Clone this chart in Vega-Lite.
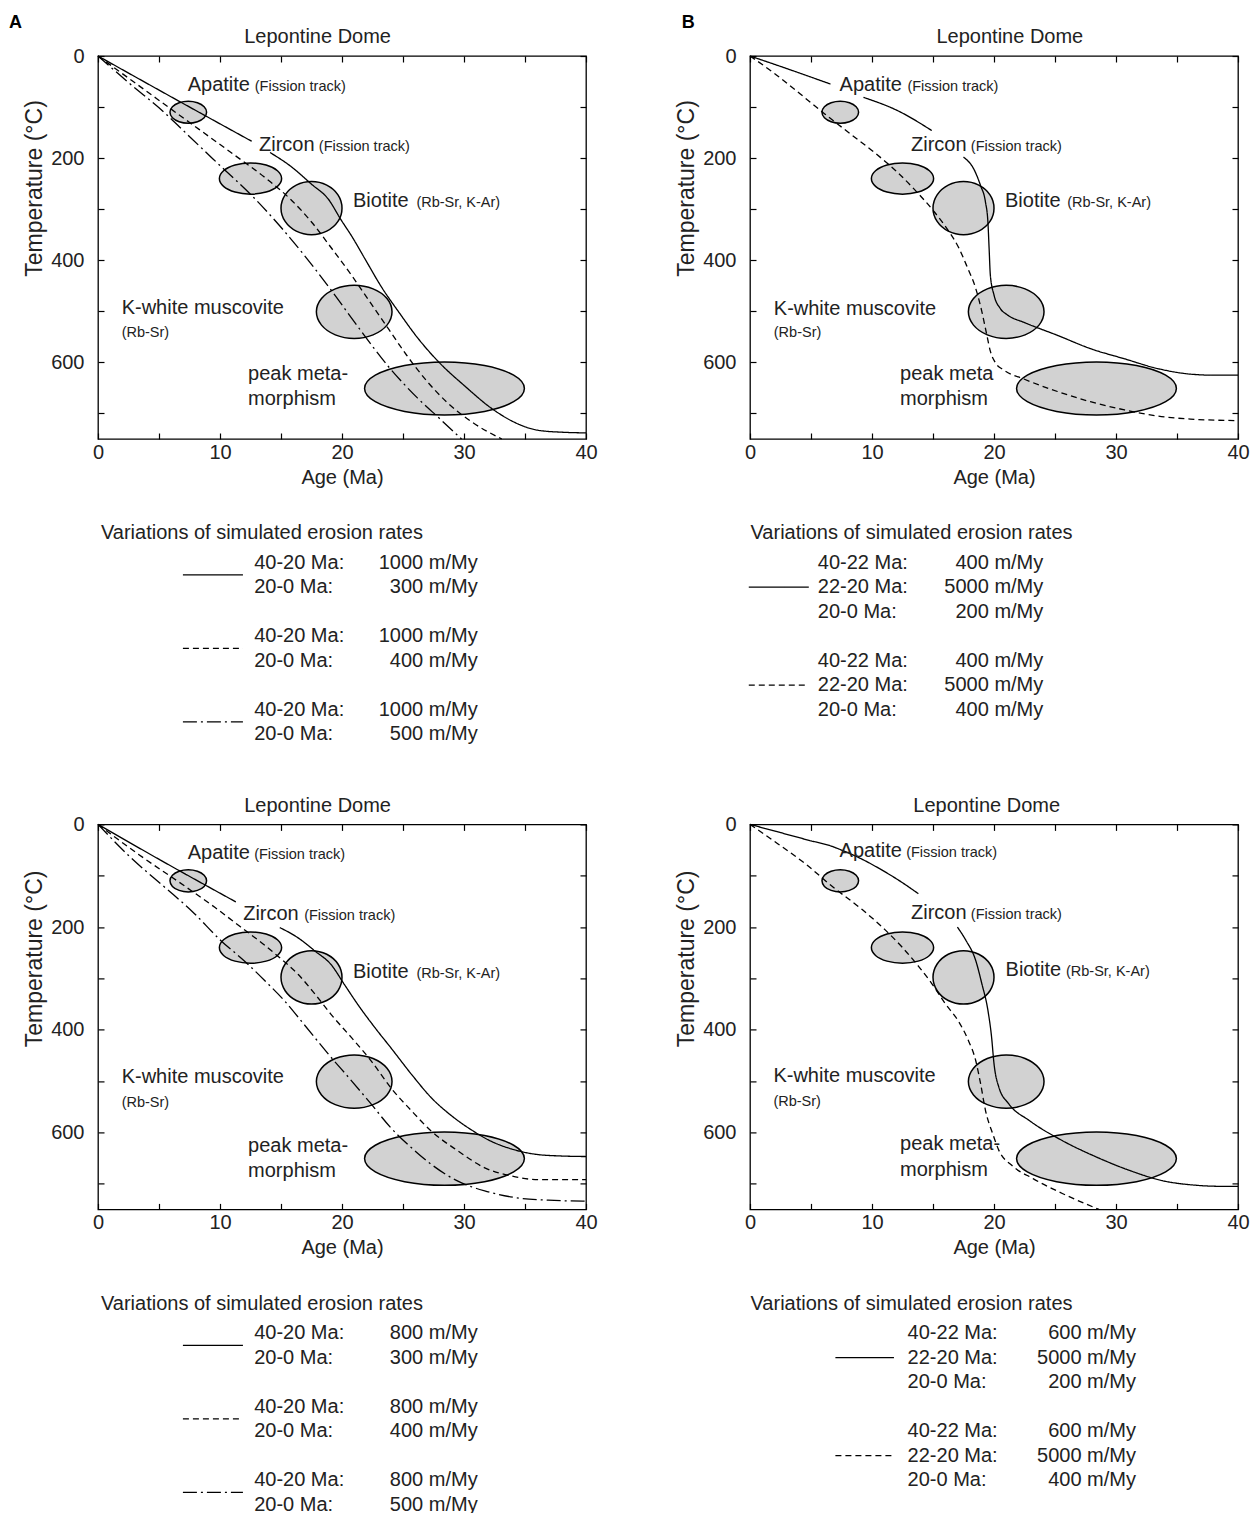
{
"$schema": "https://vega.github.io/schema/vega-lite/v6.json",
"background": "white",
"padding": {"left": 8, "top": 13, "right": 0, "bottom": 0},
"config": {
 "font": "Liberation Sans",
 "view": {"stroke": "black", "strokeWidth": 1.3},
 "axis": {"labelFont": "Liberation Sans", "labelFontSize": 20, "labelColor": "#222", "titleFont": "Liberation Sans", "titleFontSize": 20, "titleFontWeight": "normal", "titleColor": "#222", "tickColor": "black", "tickWidth": 1.2, "grid": false, "domain": false, "labelOverlap": false, "labelFlush": false, "labelBound": false},
 "text": {"font": "Liberation Sans", "color": "#222"}
},
"datasets": {
 "ellipses": [
  {"m":"ap","i":0,"age":8.9,"temp":110},{"m":"ap","i":1,"age":8.7,"temp":120.8},{"m":"ap","i":2,"age":8.15,"temp":128.6},{"m":"ap","i":3,"age":7.4,"temp":131.5},{"m":"ap","i":4,"age":6.65,"temp":128.6},{"m":"ap","i":5,"age":6.1,"temp":120.8},{"m":"ap","i":6,"age":5.9,"temp":110},{"m":"ap","i":7,"age":6.1,"temp":99.2},{"m":"ap","i":8,"age":6.65,"temp":91.4},{"m":"ap","i":9,"age":7.4,"temp":88.5},{"m":"ap","i":10,"age":8.15,"temp":91.4},{"m":"ap","i":11,"age":8.7,"temp":99.2},
  {"m":"zr","i":0,"age":15.05,"temp":240},{"m":"zr","i":1,"age":14.71,"temp":255.3},{"m":"zr","i":2,"age":13.78,"temp":266.4},{"m":"zr","i":3,"age":12.5,"temp":270.5},{"m":"zr","i":4,"age":11.23,"temp":266.4},{"m":"zr","i":5,"age":10.29,"temp":255.3},{"m":"zr","i":6,"age":9.95,"temp":240},{"m":"zr","i":7,"age":10.29,"temp":224.8},{"m":"zr","i":8,"age":11.23,"temp":213.6},{"m":"zr","i":9,"age":12.5,"temp":209.5},{"m":"zr","i":10,"age":13.78,"temp":213.6},{"m":"zr","i":11,"age":14.71,"temp":224.8},
  {"m":"bt","i":0,"age":20.0,"temp":298},{"m":"bt","i":1,"age":19.67,"temp":324},{"m":"bt","i":2,"age":18.75,"temp":343},{"m":"bt","i":3,"age":17.5,"temp":350},{"m":"bt","i":4,"age":16.25,"temp":343},{"m":"bt","i":5,"age":15.34,"temp":324},{"m":"bt","i":6,"age":15.0,"temp":298},{"m":"bt","i":7,"age":15.34,"temp":272},{"m":"bt","i":8,"age":16.25,"temp":253},{"m":"bt","i":9,"age":17.5,"temp":246},{"m":"bt","i":10,"age":18.75,"temp":253},{"m":"bt","i":11,"age":19.67,"temp":272},
  {"m":"mu","i":0,"age":24.1,"temp":501},{"m":"mu","i":1,"age":23.69,"temp":527},{"m":"mu","i":2,"age":22.55,"temp":546},{"m":"mu","i":3,"age":21.0,"temp":553},{"m":"mu","i":4,"age":19.45,"temp":546},{"m":"mu","i":5,"age":18.32,"temp":527},{"m":"mu","i":6,"age":17.9,"temp":501},{"m":"mu","i":7,"age":18.32,"temp":475},{"m":"mu","i":8,"age":19.45,"temp":456},{"m":"mu","i":9,"age":21.0,"temp":449},{"m":"mu","i":10,"age":22.55,"temp":456},{"m":"mu","i":11,"age":23.69,"temp":475},
  {"m":"pk","i":0,"age":34.95,"temp":651},{"m":"pk","i":1,"age":34.07,"temp":677},{"m":"pk","i":2,"age":31.68,"temp":696},{"m":"pk","i":3,"age":28.4,"temp":703},{"m":"pk","i":4,"age":25.13,"temp":696},{"m":"pk","i":5,"age":22.73,"temp":677},{"m":"pk","i":6,"age":21.85,"temp":651},{"m":"pk","i":7,"age":22.73,"temp":625},{"m":"pk","i":8,"age":25.13,"temp":606},{"m":"pk","i":9,"age":28.4,"temp":599},{"m":"pk","i":10,"age":31.68,"temp":606},{"m":"pk","i":11,"age":34.07,"temp":625}
 ],
 "curves": [
  {"panel":"A","style":"solid","seg":"a","age":0,"temp":0},{"panel":"A","style":"solid","seg":"a","age":6.3,"temp":84},{"panel":"A","style":"solid","seg":"a","age":12.6,"temp":167},
  {"panel":"A","style":"solid","seg":"b","age":14.1,"temp":189},{"panel":"A","style":"solid","seg":"b","age":15.8,"temp":216},{"panel":"A","style":"solid","seg":"b","age":17.5,"temp":251},{"panel":"A","style":"solid","seg":"b","age":18.9,"temp":281},{"panel":"A","style":"solid","seg":"b","age":19.9,"temp":320},{"panel":"A","style":"solid","seg":"b","age":20.8,"temp":353},{"panel":"A","style":"solid","seg":"b","age":21.9,"temp":398},{"panel":"A","style":"solid","seg":"b","age":23.2,"temp":451},{"panel":"A","style":"solid","seg":"b","age":24.7,"temp":503},{"panel":"A","style":"solid","seg":"b","age":26.2,"temp":552},{"panel":"A","style":"solid","seg":"b","age":28.0,"temp":601},{"panel":"A","style":"solid","seg":"b","age":30.1,"temp":647},{"panel":"A","style":"solid","seg":"b","age":32.2,"temp":689},{"panel":"A","style":"solid","seg":"b","age":34.2,"temp":718},{"panel":"A","style":"solid","seg":"b","age":36.1,"temp":733},{"panel":"A","style":"solid","seg":"b","age":38.3,"temp":737},{"panel":"A","style":"solid","seg":"b","age":40,"temp":738},
  {"panel":"A","style":"dashed","seg":"a","age":0,"temp":0},{"panel":"A","style":"dashed","seg":"a","age":3,"temp":52},{"panel":"A","style":"dashed","seg":"a","age":6.8,"temp":118},{"panel":"A","style":"dashed","seg":"a","age":10.9,"temp":189},{"panel":"A","style":"dashed","seg":"a","age":13.9,"temp":242},{"panel":"A","style":"dashed","seg":"a","age":15.8,"temp":281},{"panel":"A","style":"dashed","seg":"a","age":17.5,"temp":325},{"panel":"A","style":"dashed","seg":"a","age":19.1,"temp":375},{"panel":"A","style":"dashed","seg":"a","age":20.8,"temp":430},{"panel":"A","style":"dashed","seg":"a","age":22.3,"temp":482},{"panel":"A","style":"dashed","seg":"a","age":23.8,"temp":534},{"panel":"A","style":"dashed","seg":"a","age":25.3,"temp":586},{"panel":"A","style":"dashed","seg":"a","age":26.9,"temp":635},{"panel":"A","style":"dashed","seg":"a","age":28.6,"temp":678},{"panel":"A","style":"dashed","seg":"a","age":30.6,"temp":716},{"panel":"A","style":"dashed","seg":"a","age":33.1,"temp":750},
  {"panel":"A","style":"dashdot","seg":"a","age":0,"temp":0},{"panel":"A","style":"dashdot","seg":"a","age":2.5,"temp":52},{"panel":"A","style":"dashdot","seg":"a","age":5.5,"temp":112},{"panel":"A","style":"dashdot","seg":"a","age":7.6,"temp":160},{"panel":"A","style":"dashdot","seg":"a","age":9.8,"temp":210},{"panel":"A","style":"dashdot","seg":"a","age":12.8,"temp":278},{"panel":"A","style":"dashdot","seg":"a","age":14.8,"temp":330},{"panel":"A","style":"dashdot","seg":"a","age":16.9,"temp":390},{"panel":"A","style":"dashdot","seg":"a","age":19.1,"temp":458},{"panel":"A","style":"dashdot","seg":"a","age":21.3,"temp":530},{"panel":"A","style":"dashdot","seg":"a","age":23.8,"temp":608},{"panel":"A","style":"dashdot","seg":"a","age":26.2,"temp":670},{"panel":"A","style":"dashdot","seg":"a","age":28.0,"temp":710},{"panel":"A","style":"dashdot","seg":"a","age":29.8,"temp":750},
  {"panel":"B","style":"solid","seg":"a","age":0,"temp":0},{"panel":"B","style":"solid","seg":"a","age":3.3,"temp":27},{"panel":"B","style":"solid","seg":"a","age":6.6,"temp":55},
  {"panel":"B","style":"solid","seg":"b","age":9.3,"temp":81},{"panel":"B","style":"solid","seg":"b","age":12.1,"temp":107},{"panel":"B","style":"solid","seg":"b","age":14.9,"temp":146},
  {"panel":"B","style":"solid","seg":"c","age":17.5,"temp":198},{"panel":"B","style":"solid","seg":"c","age":18.4,"temp":224},{"panel":"B","style":"solid","seg":"c","age":18.9,"temp":254},{"panel":"B","style":"solid","seg":"c","age":19.3,"temp":286},{"panel":"B","style":"solid","seg":"c","age":19.5,"temp":325},{"panel":"B","style":"solid","seg":"c","age":19.6,"temp":377},{"panel":"B","style":"solid","seg":"c","age":19.7,"temp":429},{"panel":"B","style":"solid","seg":"c","age":20.0,"temp":468},{"panel":"B","style":"solid","seg":"c","age":20.5,"temp":494},{"panel":"B","style":"solid","seg":"c","age":21.1,"temp":507},{"panel":"B","style":"solid","seg":"c","age":22.5,"temp":522},{"panel":"B","style":"solid","seg":"c","age":25.2,"temp":547},{"panel":"B","style":"solid","seg":"c","age":27.9,"temp":573},{"panel":"B","style":"solid","seg":"c","age":30.7,"temp":593},{"panel":"B","style":"solid","seg":"c","age":33.4,"temp":612},{"panel":"B","style":"solid","seg":"c","age":36.1,"temp":623},{"panel":"B","style":"solid","seg":"c","age":38.0,"temp":625},{"panel":"B","style":"solid","seg":"c","age":40,"temp":625},
  {"panel":"B","style":"dashed","seg":"a","age":0,"temp":0},{"panel":"B","style":"dashed","seg":"a","age":2.0,"temp":34},{"panel":"B","style":"dashed","seg":"a","age":4.1,"temp":74},{"panel":"B","style":"dashed","seg":"a","age":6.1,"temp":113},{"panel":"B","style":"dashed","seg":"a","age":8.2,"temp":152},{"panel":"B","style":"dashed","seg":"a","age":10.2,"temp":189},{"panel":"B","style":"dashed","seg":"a","age":12.1,"temp":228},{"panel":"B","style":"dashed","seg":"a","age":13.7,"temp":267},{"panel":"B","style":"dashed","seg":"a","age":15.1,"temp":305},{"panel":"B","style":"dashed","seg":"a","age":16.2,"temp":340},{"panel":"B","style":"dashed","seg":"a","age":17.1,"temp":375},{"panel":"B","style":"dashed","seg":"a","age":17.8,"temp":413},{"panel":"B","style":"dashed","seg":"a","age":18.5,"temp":455},{"panel":"B","style":"dashed","seg":"a","age":19.0,"temp":500},{"panel":"B","style":"dashed","seg":"a","age":19.4,"temp":545},{"panel":"B","style":"dashed","seg":"a","age":19.7,"temp":578},{"panel":"B","style":"dashed","seg":"a","age":20.1,"temp":600},{"panel":"B","style":"dashed","seg":"a","age":20.8,"temp":615},{"panel":"B","style":"dashed","seg":"a","age":22.5,"temp":633},{"panel":"B","style":"dashed","seg":"a","age":25.2,"temp":657},{"panel":"B","style":"dashed","seg":"a","age":27.9,"temp":677},{"panel":"B","style":"dashed","seg":"a","age":30.7,"temp":693},{"panel":"B","style":"dashed","seg":"a","age":33.4,"temp":705},{"panel":"B","style":"dashed","seg":"a","age":36.1,"temp":711},{"panel":"B","style":"dashed","seg":"a","age":40,"temp":714},
  {"panel":"C","style":"solid","seg":"a","age":0,"temp":0},{"panel":"C","style":"solid","seg":"a","age":5.6,"temp":76},{"panel":"C","style":"solid","seg":"a","age":11.3,"temp":151},
  {"panel":"C","style":"solid","seg":"b","age":14.9,"temp":201},{"panel":"C","style":"solid","seg":"b","age":16.4,"temp":221},{"panel":"C","style":"solid","seg":"b","age":17.8,"temp":247},{"panel":"C","style":"solid","seg":"b","age":19.1,"temp":273},{"panel":"C","style":"solid","seg":"b","age":20.2,"temp":312},{"panel":"C","style":"solid","seg":"b","age":21.3,"temp":351},{"panel":"C","style":"solid","seg":"b","age":22.7,"temp":396},{"panel":"C","style":"solid","seg":"b","age":24.0,"temp":435},{"panel":"C","style":"solid","seg":"b","age":25.7,"temp":487},{"panel":"C","style":"solid","seg":"b","age":27.3,"temp":532},{"panel":"C","style":"solid","seg":"b","age":29.0,"temp":568},{"panel":"C","style":"solid","seg":"b","age":30.6,"temp":595},{"panel":"C","style":"solid","seg":"b","age":32.2,"temp":617},{"panel":"C","style":"solid","seg":"b","age":34.0,"temp":633},{"panel":"C","style":"solid","seg":"b","age":36.0,"temp":643},{"panel":"C","style":"solid","seg":"b","age":38.0,"temp":646},{"panel":"C","style":"solid","seg":"b","age":40,"temp":647},
  {"panel":"C","style":"dashed","seg":"a","age":0,"temp":0},{"panel":"C","style":"dashed","seg":"a","age":3.3,"temp":58},{"panel":"C","style":"dashed","seg":"a","age":7.1,"temp":120},{"panel":"C","style":"dashed","seg":"a","age":9.6,"temp":162},{"panel":"C","style":"dashed","seg":"a","age":11.7,"temp":200},{"panel":"C","style":"dashed","seg":"a","age":13.7,"temp":236},{"panel":"C","style":"dashed","seg":"a","age":14.9,"temp":260},{"panel":"C","style":"dashed","seg":"a","age":16.4,"temp":292},{"panel":"C","style":"dashed","seg":"a","age":17.8,"temp":331},{"panel":"C","style":"dashed","seg":"a","age":19.1,"temp":370},{"panel":"C","style":"dashed","seg":"a","age":20.8,"temp":416},{"panel":"C","style":"dashed","seg":"a","age":22.4,"temp":461},{"panel":"C","style":"dashed","seg":"a","age":24.0,"temp":513},{"panel":"C","style":"dashed","seg":"a","age":25.7,"temp":558},{"panel":"C","style":"dashed","seg":"a","age":27.3,"temp":597},{"panel":"C","style":"dashed","seg":"a","age":29.5,"temp":636},{"panel":"C","style":"dashed","seg":"a","age":31.7,"temp":669},{"panel":"C","style":"dashed","seg":"a","age":33.9,"temp":685},{"panel":"C","style":"dashed","seg":"a","age":36.1,"temp":692},{"panel":"C","style":"dashed","seg":"a","age":40,"temp":692},
  {"panel":"C","style":"dashdot","seg":"a","age":0,"temp":0},{"panel":"C","style":"dashdot","seg":"a","age":2.7,"temp":65},{"panel":"C","style":"dashdot","seg":"a","age":5.5,"temp":123},{"panel":"C","style":"dashdot","seg":"a","age":7.7,"temp":169},{"panel":"C","style":"dashdot","seg":"a","age":10.1,"temp":227},{"panel":"C","style":"dashdot","seg":"a","age":12.0,"temp":266},{"panel":"C","style":"dashdot","seg":"a","age":13.7,"temp":305},{"panel":"C","style":"dashdot","seg":"a","age":15.3,"temp":344},{"panel":"C","style":"dashdot","seg":"a","age":16.9,"temp":390},{"panel":"C","style":"dashdot","seg":"a","age":18.9,"temp":448},{"panel":"C","style":"dashdot","seg":"a","age":20.8,"temp":500},{"panel":"C","style":"dashdot","seg":"a","age":22.4,"temp":545},{"panel":"C","style":"dashdot","seg":"a","age":24.0,"temp":591},{"panel":"C","style":"dashdot","seg":"a","age":25.7,"temp":630},{"panel":"C","style":"dashdot","seg":"a","age":27.3,"temp":662},{"panel":"C","style":"dashdot","seg":"a","age":29.5,"temp":695},{"panel":"C","style":"dashdot","seg":"a","age":31.7,"temp":714},{"panel":"C","style":"dashdot","seg":"a","age":34.2,"temp":727},{"panel":"C","style":"dashdot","seg":"a","age":36.9,"temp":732},{"panel":"C","style":"dashdot","seg":"a","age":40,"temp":734},
  {"panel":"D","style":"solid","seg":"a","age":0,"temp":0},{"panel":"D","style":"solid","seg":"a","age":2.5,"temp":16},{"panel":"D","style":"solid","seg":"a","age":5.0,"temp":32},{"panel":"D","style":"solid","seg":"a","age":6.5,"temp":41},{"panel":"D","style":"solid","seg":"a","age":7.8,"temp":53},{"panel":"D","style":"solid","seg":"a","age":9.2,"temp":68},{"panel":"D","style":"solid","seg":"a","age":10.6,"temp":86},{"panel":"D","style":"solid","seg":"a","age":12.2,"temp":109},{"panel":"D","style":"solid","seg":"a","age":13.8,"temp":135},
  {"panel":"D","style":"solid","seg":"b","age":17.0,"temp":200},{"panel":"D","style":"solid","seg":"b","age":17.7,"temp":226},{"panel":"D","style":"solid","seg":"b","age":18.5,"temp":265},{"panel":"D","style":"solid","seg":"b","age":19.0,"temp":310},{"panel":"D","style":"solid","seg":"b","age":19.5,"temp":362},{"panel":"D","style":"solid","seg":"b","age":19.8,"temp":414},{"panel":"D","style":"solid","seg":"b","age":20.0,"temp":466},{"panel":"D","style":"solid","seg":"b","age":20.4,"temp":512},{"panel":"D","style":"solid","seg":"b","age":21.2,"temp":544},{"panel":"D","style":"solid","seg":"b","age":22.9,"temp":577},{"panel":"D","style":"solid","seg":"b","age":25.6,"temp":616},{"panel":"D","style":"solid","seg":"b","age":28.4,"temp":648},{"panel":"D","style":"solid","seg":"b","age":31.1,"temp":674},{"panel":"D","style":"solid","seg":"b","age":33.8,"temp":694},{"panel":"D","style":"solid","seg":"b","age":36.6,"temp":703},{"panel":"D","style":"solid","seg":"b","age":38.5,"temp":705},{"panel":"D","style":"solid","seg":"b","age":40,"temp":705},
  {"panel":"D","style":"dashed","seg":"a","age":0,"temp":0},{"panel":"D","style":"dashed","seg":"a","age":2.3,"temp":38},{"panel":"D","style":"dashed","seg":"a","age":4.6,"temp":78},{"panel":"D","style":"dashed","seg":"a","age":6.8,"temp":122},{"panel":"D","style":"dashed","seg":"a","age":9.2,"temp":166},{"panel":"D","style":"dashed","seg":"a","age":11.1,"temp":206},{"panel":"D","style":"dashed","seg":"a","age":12.5,"temp":240},{"panel":"D","style":"dashed","seg":"a","age":13.8,"temp":276},{"panel":"D","style":"dashed","seg":"a","age":14.9,"temp":310},{"panel":"D","style":"dashed","seg":"a","age":16.0,"temp":349},{"panel":"D","style":"dashed","seg":"a","age":17.1,"temp":384},{"panel":"D","style":"dashed","seg":"a","age":17.9,"temp":421},{"panel":"D","style":"dashed","seg":"a","age":18.5,"temp":460},{"panel":"D","style":"dashed","seg":"a","age":18.9,"temp":505},{"panel":"D","style":"dashed","seg":"a","age":19.3,"temp":557},{"panel":"D","style":"dashed","seg":"a","age":19.9,"temp":603},{"panel":"D","style":"dashed","seg":"a","age":20.4,"temp":635},{"panel":"D","style":"dashed","seg":"a","age":21.5,"temp":665},{"panel":"D","style":"dashed","seg":"a","age":23.2,"temp":690},{"panel":"D","style":"dashed","seg":"a","age":25.6,"temp":719},{"panel":"D","style":"dashed","seg":"a","age":28.6,"temp":750}
 ],
 "labels": [
  {"panel":"A","kind":"big","text":"Apatite","age":7.35,"temp":68},{"panel":"A","kind":"big","text":"Zircon","age":13.2,"temp":186},{"panel":"A","kind":"big","text":"Biotite","age":20.9,"temp":296},{"panel":"A","kind":"big","text":"K-white muscovite","age":1.94,"temp":506},{"panel":"A","kind":"big","text":"peak meta-","age":12.3,"temp":635},{"panel":"A","kind":"big","text":"morphism","age":12.3,"temp":684},
  {"panel":"A","kind":"small","text":"(Fission track)","age":12.85,"temp":68},{"panel":"A","kind":"small","text":"(Fission track)","age":18.1,"temp":186},{"panel":"A","kind":"small","text":"(Rb-Sr, K-Ar)","age":26.1,"temp":296},{"panel":"A","kind":"small","text":"(Rb-Sr)","age":1.94,"temp":550},
  {"panel":"A","kind":"head","text":"Lepontine Dome","age":18.0,"temp":-25},{"panel":"A","kind":"letter","text":"A","age":-7.3,"temp":-55},
  {"panel":"B","kind":"big","text":"Apatite","age":7.34,"temp":69},{"panel":"B","kind":"big","text":"Zircon","age":13.2,"temp":187},{"panel":"B","kind":"big","text":"Biotite","age":20.9,"temp":296},{"panel":"B","kind":"big","text":"K-white muscovite","age":1.95,"temp":508},{"panel":"B","kind":"big","text":"peak meta","age":12.3,"temp":635},{"panel":"B","kind":"big","text":"morphism","age":12.3,"temp":684},
  {"panel":"B","kind":"small","text":"(Fission track)","age":12.9,"temp":69},{"panel":"B","kind":"small","text":"(Fission track)","age":18.1,"temp":187},{"panel":"B","kind":"small","text":"(Rb-Sr, K-Ar)","age":26.0,"temp":296},{"panel":"B","kind":"small","text":"(Rb-Sr)","age":1.95,"temp":551},
  {"panel":"B","kind":"head","text":"Lepontine Dome","age":21.3,"temp":-25},{"panel":"B","kind":"letter","text":"B","age":-5.6,"temp":-55},
  {"panel":"C","kind":"big","text":"Apatite","age":7.35,"temp":67},{"panel":"C","kind":"big","text":"Zircon","age":11.9,"temp":186},{"panel":"C","kind":"big","text":"Biotite","age":20.9,"temp":300},{"panel":"C","kind":"big","text":"K-white muscovite","age":1.94,"temp":504},{"panel":"C","kind":"big","text":"peak meta-","age":12.3,"temp":639},{"panel":"C","kind":"big","text":"morphism","age":12.3,"temp":686},
  {"panel":"C","kind":"small","text":"(Fission track)","age":12.8,"temp":67},{"panel":"C","kind":"small","text":"(Fission track)","age":16.9,"temp":186},{"panel":"C","kind":"small","text":"(Rb-Sr, K-Ar)","age":26.1,"temp":300},{"panel":"C","kind":"small","text":"(Rb-Sr)","age":1.94,"temp":550},
  {"panel":"C","kind":"head","text":"Lepontine Dome","age":18.0,"temp":-25},
  {"panel":"D","kind":"big","text":"Apatite","age":7.34,"temp":64},{"panel":"D","kind":"big","text":"Zircon","age":13.2,"temp":184},{"panel":"D","kind":"big","text":"Biotite","age":20.95,"temp":296},{"panel":"D","kind":"big","text":"K-white muscovite","age":1.92,"temp":502},{"panel":"D","kind":"big","text":"peak meta-","age":12.3,"temp":635},{"panel":"D","kind":"big","text":"morphism","age":12.3,"temp":684},
  {"panel":"D","kind":"small","text":"(Fission track)","age":12.8,"temp":64},{"panel":"D","kind":"small","text":"(Fission track)","age":18.1,"temp":184},{"panel":"D","kind":"small","text":"(Rb-Sr, K-Ar)","age":25.9,"temp":296},{"panel":"D","kind":"small","text":"(Rb-Sr)","age":1.92,"temp":548},
  {"panel":"D","kind":"head","text":"Lepontine Dome","age":19.4,"temp":-25}
 ],
 "legendText": [
  {"panel":"A","kind":"title","line":0,"text":"Variations of simulated erosion rates"},
  {"panel":"A","kind":"period","line":1,"text":"40-20 Ma:"},{"panel":"A","kind":"rate","line":1,"text":"1000 m/My"},
  {"panel":"A","kind":"period","line":2,"text":"20-0 Ma:"},{"panel":"A","kind":"rate","line":2,"text":"300 m/My"},
  {"panel":"A","kind":"period","line":4,"text":"40-20 Ma:"},{"panel":"A","kind":"rate","line":4,"text":"1000 m/My"},
  {"panel":"A","kind":"period","line":5,"text":"20-0 Ma:"},{"panel":"A","kind":"rate","line":5,"text":"400 m/My"},
  {"panel":"A","kind":"period","line":7,"text":"40-20 Ma:"},{"panel":"A","kind":"rate","line":7,"text":"1000 m/My"},
  {"panel":"A","kind":"period","line":8,"text":"20-0 Ma:"},{"panel":"A","kind":"rate","line":8,"text":"500 m/My"},
  {"panel":"B","kind":"title","line":0,"text":"Variations of simulated erosion rates"},
  {"panel":"B","kind":"period","line":1,"text":"40-22 Ma:"},{"panel":"B","kind":"rate","line":1,"text":"400 m/My"},
  {"panel":"B","kind":"period","line":2,"text":"22-20 Ma:"},{"panel":"B","kind":"rate","line":2,"text":"5000 m/My"},
  {"panel":"B","kind":"period","line":3,"text":"20-0 Ma:"},{"panel":"B","kind":"rate","line":3,"text":"200 m/My"},
  {"panel":"B","kind":"period","line":5,"text":"40-22 Ma:"},{"panel":"B","kind":"rate","line":5,"text":"400 m/My"},
  {"panel":"B","kind":"period","line":6,"text":"22-20 Ma:"},{"panel":"B","kind":"rate","line":6,"text":"5000 m/My"},
  {"panel":"B","kind":"period","line":7,"text":"20-0 Ma:"},{"panel":"B","kind":"rate","line":7,"text":"400 m/My"},
  {"panel":"C","kind":"title","line":0,"text":"Variations of simulated erosion rates"},
  {"panel":"C","kind":"period","line":1,"text":"40-20 Ma:"},{"panel":"C","kind":"rate","line":1,"text":"800 m/My"},
  {"panel":"C","kind":"period","line":2,"text":"20-0 Ma:"},{"panel":"C","kind":"rate","line":2,"text":"300 m/My"},
  {"panel":"C","kind":"period","line":4,"text":"40-20 Ma:"},{"panel":"C","kind":"rate","line":4,"text":"800 m/My"},
  {"panel":"C","kind":"period","line":5,"text":"20-0 Ma:"},{"panel":"C","kind":"rate","line":5,"text":"400 m/My"},
  {"panel":"C","kind":"period","line":7,"text":"40-20 Ma:"},{"panel":"C","kind":"rate","line":7,"text":"800 m/My"},
  {"panel":"C","kind":"period","line":8,"text":"20-0 Ma:"},{"panel":"C","kind":"rate","line":8,"text":"500 m/My"},
  {"panel":"D","kind":"title","line":0,"text":"Variations of simulated erosion rates"},
  {"panel":"D","kind":"period","line":1,"text":"40-22 Ma:"},{"panel":"D","kind":"rate","line":1,"text":"600 m/My"},
  {"panel":"D","kind":"period","line":2,"text":"22-20 Ma:"},{"panel":"D","kind":"rate","line":2,"text":"5000 m/My"},
  {"panel":"D","kind":"period","line":3,"text":"20-0 Ma:"},{"panel":"D","kind":"rate","line":3,"text":"200 m/My"},
  {"panel":"D","kind":"period","line":5,"text":"40-22 Ma:"},{"panel":"D","kind":"rate","line":5,"text":"600 m/My"},
  {"panel":"D","kind":"period","line":6,"text":"22-20 Ma:"},{"panel":"D","kind":"rate","line":6,"text":"5000 m/My"},
  {"panel":"D","kind":"period","line":7,"text":"20-0 Ma:"},{"panel":"D","kind":"rate","line":7,"text":"400 m/My"}
 ],
 "legendLines": [
  {"panel":"A","style":"solid","line":1.5},{"panel":"A","style":"dashed","line":4.5},{"panel":"A","style":"dashdot","line":7.5},
  {"panel":"B","style":"solid","line":2},{"panel":"B","style":"dashed","line":6},
  {"panel":"C","style":"solid","line":1.5},{"panel":"C","style":"dashed","line":4.5},{"panel":"C","style":"dashdot","line":7.5},
  {"panel":"D","style":"solid","line":2},{"panel":"D","style":"dashed","line":6}
 ]
},
"concat": [
   {"width": 488, "height": 383,
    "resolve": {"axis": {"x": "independent", "y": "independent"}},
    "layer": [
     {"data": {"name": "ellipses"},
      "mark": {"type": "line", "interpolate": "cardinal-closed", "fill": "#d2d2d2", "stroke": "black", "strokeWidth": 1.5},
      "encoding": {
       "x": {"field": "age", "type": "quantitative", "scale": {"domain": [0, 40], "nice": false, "zero": false}, "axis": {"orient": "bottom", "values": [0,5,10,15,20,25,30,35,40], "labelExpr": "datum.value % 10 === 0 ? datum.label : ''", "title": "Age (Ma)", "tickSize": -6, "labelPadding": 9, "titlePadding": 5}},
       "y": {"field": "temp", "type": "quantitative", "scale": {"domain": [0, 750], "reverse": true, "nice": false, "zero": false}, "axis": {"orient": "left", "values": [0,100,200,300,400,500,600,700], "labelExpr": "datum.value % 200 === 0 ? datum.label : ''", "title": "Temperature (°C)", "titleFontSize": 23, "titleY": 132, "tickSize": -6, "labelPadding": 20, "titlePadding": 4}},
       "detail": {"field": "m"},
       "order": {"field": "i"}
      }},
     {"data": {"name": "curves"}, "transform": [{"filter": "datum.panel === 'A'"}],
      "mark": {"type": "line", "interpolate": "monotone", "color": "black", "strokeWidth": 1.3},
      "encoding": {
       "x": {"field": "age", "type": "quantitative", "axis": {"orient": "top", "values": [0,5,10,15,20,25,30,35,40], "labels": false, "title": null, "tickSize": -6}},
       "y": {"field": "temp", "type": "quantitative", "axis": {"orient": "right", "values": [0,100,200,300,400,500,600,700], "labels": false, "title": null, "tickSize": -6}},
       "strokeDash": {"field": "style", "type": "nominal", "scale": {"domain": ["solid","dashed","dashdot"], "range": [[1,0],[6,4],[14,4,2,4]]}, "legend": null},
       "detail": {"field": "seg"}
      }},
     {"data": {"name": "labels"}, "transform": [{"filter": "datum.panel === 'A' && datum.kind === 'big'"}],
      "mark": {"type": "text", "align": "left", "baseline": "alphabetic", "fontSize": 20},
      "encoding": {"x": {"field": "age", "type": "quantitative", "axis": null}, "y": {"field": "temp", "type": "quantitative", "axis": null}, "text": {"field": "text"}}},
     {"data": {"name": "labels"}, "transform": [{"filter": "datum.panel === 'A' && datum.kind === 'small'"}],
      "mark": {"type": "text", "align": "left", "baseline": "alphabetic", "fontSize": 14.5},
      "encoding": {"x": {"field": "age", "type": "quantitative", "axis": null}, "y": {"field": "temp", "type": "quantitative", "axis": null}, "text": {"field": "text"}}},
     {"data": {"name": "labels"}, "transform": [{"filter": "datum.panel === 'A' && datum.kind === 'head'"}],
      "mark": {"type": "text", "align": "center", "baseline": "alphabetic", "fontSize": 20},
      "encoding": {"x": {"field": "age", "type": "quantitative", "axis": null}, "y": {"field": "temp", "type": "quantitative", "axis": null}, "text": {"field": "text"}}},
     {"data": {"name": "labels"}, "transform": [{"filter": "datum.panel === 'A' && datum.kind === 'letter'"}],
      "mark": {"type": "text", "align": "left", "baseline": "alphabetic", "fontSize": 18, "fontWeight": "bold", "color": "black"},
      "encoding": {"x": {"field": "age", "type": "quantitative", "axis": null}, "y": {"field": "temp", "type": "quantitative", "axis": null}, "text": {"field": "text"}}}
    ]},
   {"width": 488, "height": 383,
    "resolve": {"axis": {"x": "independent", "y": "independent"}},
    "layer": [
     {"data": {"name": "ellipses"},
      "mark": {"type": "line", "interpolate": "cardinal-closed", "fill": "#d2d2d2", "stroke": "black", "strokeWidth": 1.5},
      "encoding": {
       "x": {"field": "age", "type": "quantitative", "scale": {"domain": [0, 40], "nice": false, "zero": false}, "axis": {"orient": "bottom", "values": [0,5,10,15,20,25,30,35,40], "labelExpr": "datum.value % 10 === 0 ? datum.label : ''", "title": "Age (Ma)", "tickSize": -6, "labelPadding": 9, "titlePadding": 5}},
       "y": {"field": "temp", "type": "quantitative", "scale": {"domain": [0, 750], "reverse": true, "nice": false, "zero": false}, "axis": {"orient": "left", "values": [0,100,200,300,400,500,600,700], "labelExpr": "datum.value % 200 === 0 ? datum.label : ''", "title": "Temperature (°C)", "titleFontSize": 23, "titleY": 132, "tickSize": -6, "labelPadding": 20, "titlePadding": 4}},
       "detail": {"field": "m"},
       "order": {"field": "i"}
      }},
     {"data": {"name": "curves"}, "transform": [{"filter": "datum.panel === 'B'"}],
      "mark": {"type": "line", "interpolate": "monotone", "color": "black", "strokeWidth": 1.3},
      "encoding": {
       "x": {"field": "age", "type": "quantitative", "axis": {"orient": "top", "values": [0,5,10,15,20,25,30,35,40], "labels": false, "title": null, "tickSize": -6}},
       "y": {"field": "temp", "type": "quantitative", "axis": {"orient": "right", "values": [0,100,200,300,400,500,600,700], "labels": false, "title": null, "tickSize": -6}},
       "strokeDash": {"field": "style", "type": "nominal", "scale": {"domain": ["solid","dashed","dashdot"], "range": [[1,0],[7,4],[14,4,2,4]]}, "legend": null},
       "detail": {"field": "seg"}
      }},
     {"data": {"name": "labels"}, "transform": [{"filter": "datum.panel === 'B' && datum.kind === 'big'"}],
      "mark": {"type": "text", "align": "left", "baseline": "alphabetic", "fontSize": 20},
      "encoding": {"x": {"field": "age", "type": "quantitative", "axis": null}, "y": {"field": "temp", "type": "quantitative", "axis": null}, "text": {"field": "text"}}},
     {"data": {"name": "labels"}, "transform": [{"filter": "datum.panel === 'B' && datum.kind === 'small'"}],
      "mark": {"type": "text", "align": "left", "baseline": "alphabetic", "fontSize": 14.5},
      "encoding": {"x": {"field": "age", "type": "quantitative", "axis": null}, "y": {"field": "temp", "type": "quantitative", "axis": null}, "text": {"field": "text"}}},
     {"data": {"name": "labels"}, "transform": [{"filter": "datum.panel === 'B' && datum.kind === 'head'"}],
      "mark": {"type": "text", "align": "center", "baseline": "alphabetic", "fontSize": 20},
      "encoding": {"x": {"field": "age", "type": "quantitative", "axis": null}, "y": {"field": "temp", "type": "quantitative", "axis": null}, "text": {"field": "text"}}},
     {"data": {"name": "labels"}, "transform": [{"filter": "datum.panel === 'B' && datum.kind === 'letter'"}],
      "mark": {"type": "text", "align": "left", "baseline": "alphabetic", "fontSize": 18, "fontWeight": "bold", "color": "black"},
      "encoding": {"x": {"field": "age", "type": "quantitative", "axis": null}, "y": {"field": "temp", "type": "quantitative", "axis": null}, "text": {"field": "text"}}}
    ]},
   {"width": 488, "height": 186.6, "view": {"stroke": null},
    "layer": [
     {"data": {"name": "legendText"}, "transform": [{"filter": "datum.panel === 'A' && datum.kind === 'title'"}],
      "mark": {"type": "text", "align": "left", "baseline": "middle", "fontSize": 20, "dy": -5},
      "encoding": {"x": {"datum": 0.6, "type": "quantitative", "scale": {"domain": [0, 100], "nice": false, "zero": false}, "axis": null}, "y": {"field": "line", "type": "quantitative", "scale": {"domain": [0, 7.616], "reverse": true, "nice": false, "zero": false}, "axis": null}, "text": {"field": "text"}}},
     {"data": {"name": "legendText"}, "transform": [{"filter": "datum.panel === 'A' && datum.kind === 'period'"}],
      "mark": {"type": "text", "align": "left", "baseline": "middle", "fontSize": 20},
      "encoding": {"x": {"datum": 32.0, "type": "quantitative", "axis": null}, "y": {"field": "line", "type": "quantitative", "axis": null}, "text": {"field": "text"}}},
     {"data": {"name": "legendText"}, "transform": [{"filter": "datum.panel === 'A' && datum.kind === 'rate'"}],
      "mark": {"type": "text", "align": "right", "baseline": "middle", "fontSize": 20},
      "encoding": {"x": {"datum": 77.8, "type": "quantitative", "axis": null}, "y": {"field": "line", "type": "quantitative", "axis": null}, "text": {"field": "text"}}},
     {"data": {"name": "legendLines"}, "transform": [{"filter": "datum.panel === 'A'"}],
      "mark": {"type": "rule", "color": "black", "strokeWidth": 1.3},
      "encoding": {"x": {"datum": 17.4, "type": "quantitative", "axis": null}, "x2": {"datum": 29.7}, "y": {"field": "line", "type": "quantitative", "axis": null}, "strokeDash": {"field": "style", "type": "nominal", "scale": {"domain": ["solid","dashed","dashdot"], "range": [[1,0],[6,4],[14,5,2,5]]}, "legend": null}}}
    ]},
   {"width": 488, "height": 186.6, "view": {"stroke": null},
    "layer": [
     {"data": {"name": "legendText"}, "transform": [{"filter": "datum.panel === 'B' && datum.kind === 'title'"}],
      "mark": {"type": "text", "align": "left", "baseline": "middle", "fontSize": 20, "dy": -5},
      "encoding": {"x": {"datum": 0.1, "type": "quantitative", "scale": {"domain": [0, 100], "nice": false, "zero": false}, "axis": null}, "y": {"field": "line", "type": "quantitative", "scale": {"domain": [0, 7.616], "reverse": true, "nice": false, "zero": false}, "axis": null}, "text": {"field": "text"}}},
     {"data": {"name": "legendText"}, "transform": [{"filter": "datum.panel === 'B' && datum.kind === 'period'"}],
      "mark": {"type": "text", "align": "left", "baseline": "middle", "fontSize": 20},
      "encoding": {"x": {"datum": 13.9, "type": "quantitative", "axis": null}, "y": {"field": "line", "type": "quantitative", "axis": null}, "text": {"field": "text"}}},
     {"data": {"name": "legendText"}, "transform": [{"filter": "datum.panel === 'B' && datum.kind === 'rate'"}],
      "mark": {"type": "text", "align": "right", "baseline": "middle", "fontSize": 20},
      "encoding": {"x": {"datum": 60.1, "type": "quantitative", "axis": null}, "y": {"field": "line", "type": "quantitative", "axis": null}, "text": {"field": "text"}}},
     {"data": {"name": "legendLines"}, "transform": [{"filter": "datum.panel === 'B'"}],
      "mark": {"type": "rule", "color": "black", "strokeWidth": 1.3},
      "encoding": {"x": {"datum": -0.25, "type": "quantitative", "axis": null}, "x2": {"datum": 12.05}, "y": {"field": "line", "type": "quantitative", "axis": null}, "strokeDash": {"field": "style", "type": "nominal", "scale": {"domain": ["solid","dashed","dashdot"], "range": [[1,0],[6,4],[14,5,2,5]]}, "legend": null}}}
    ]},
   {"width": 488, "height": 385,
    "resolve": {"axis": {"x": "independent", "y": "independent"}},
    "layer": [
     {"data": {"name": "ellipses"},
      "mark": {"type": "line", "interpolate": "cardinal-closed", "fill": "#d2d2d2", "stroke": "black", "strokeWidth": 1.5},
      "encoding": {
       "x": {"field": "age", "type": "quantitative", "scale": {"domain": [0, 40], "nice": false, "zero": false}, "axis": {"orient": "bottom", "values": [0,5,10,15,20,25,30,35,40], "labelExpr": "datum.value % 10 === 0 ? datum.label : ''", "title": "Age (Ma)", "tickSize": -6, "labelPadding": 9, "titlePadding": 5}},
       "y": {"field": "temp", "type": "quantitative", "scale": {"domain": [0, 750], "reverse": true, "nice": false, "zero": false}, "axis": {"orient": "left", "values": [0,100,200,300,400,500,600,700], "labelExpr": "datum.value % 200 === 0 ? datum.label : ''", "title": "Temperature (°C)", "titleFontSize": 23, "titleY": 134, "tickSize": -6, "labelPadding": 20, "titlePadding": 4}},
       "detail": {"field": "m"},
       "order": {"field": "i"}
      }},
     {"data": {"name": "curves"}, "transform": [{"filter": "datum.panel === 'C'"}],
      "mark": {"type": "line", "interpolate": "monotone", "color": "black", "strokeWidth": 1.3},
      "encoding": {
       "x": {"field": "age", "type": "quantitative", "axis": {"orient": "top", "values": [0,5,10,15,20,25,30,35,40], "labels": false, "title": null, "tickSize": -6}},
       "y": {"field": "temp", "type": "quantitative", "axis": {"orient": "right", "values": [0,100,200,300,400,500,600,700], "labels": false, "title": null, "tickSize": -6}},
       "strokeDash": {"field": "style", "type": "nominal", "scale": {"domain": ["solid","dashed","dashdot"], "range": [[1,0],[10,5],[14,4,2,4]]}, "legend": null},
       "detail": {"field": "seg"}
      }},
     {"data": {"name": "labels"}, "transform": [{"filter": "datum.panel === 'C' && datum.kind === 'big'"}],
      "mark": {"type": "text", "align": "left", "baseline": "alphabetic", "fontSize": 20},
      "encoding": {"x": {"field": "age", "type": "quantitative", "axis": null}, "y": {"field": "temp", "type": "quantitative", "axis": null}, "text": {"field": "text"}}},
     {"data": {"name": "labels"}, "transform": [{"filter": "datum.panel === 'C' && datum.kind === 'small'"}],
      "mark": {"type": "text", "align": "left", "baseline": "alphabetic", "fontSize": 14.5},
      "encoding": {"x": {"field": "age", "type": "quantitative", "axis": null}, "y": {"field": "temp", "type": "quantitative", "axis": null}, "text": {"field": "text"}}},
     {"data": {"name": "labels"}, "transform": [{"filter": "datum.panel === 'C' && datum.kind === 'head'"}],
      "mark": {"type": "text", "align": "center", "baseline": "alphabetic", "fontSize": 20},
      "encoding": {"x": {"field": "age", "type": "quantitative", "axis": null}, "y": {"field": "temp", "type": "quantitative", "axis": null}, "text": {"field": "text"}}}
    ]},
   {"width": 488, "height": 385,
    "resolve": {"axis": {"x": "independent", "y": "independent"}},
    "layer": [
     {"data": {"name": "ellipses"},
      "mark": {"type": "line", "interpolate": "cardinal-closed", "fill": "#d2d2d2", "stroke": "black", "strokeWidth": 1.5},
      "encoding": {
       "x": {"field": "age", "type": "quantitative", "scale": {"domain": [0, 40], "nice": false, "zero": false}, "axis": {"orient": "bottom", "values": [0,5,10,15,20,25,30,35,40], "labelExpr": "datum.value % 10 === 0 ? datum.label : ''", "title": "Age (Ma)", "tickSize": -6, "labelPadding": 9, "titlePadding": 5}},
       "y": {"field": "temp", "type": "quantitative", "scale": {"domain": [0, 750], "reverse": true, "nice": false, "zero": false}, "axis": {"orient": "left", "values": [0,100,200,300,400,500,600,700], "labelExpr": "datum.value % 200 === 0 ? datum.label : ''", "title": "Temperature (°C)", "titleFontSize": 23, "titleY": 134, "tickSize": -6, "labelPadding": 20, "titlePadding": 4}},
       "detail": {"field": "m"},
       "order": {"field": "i"}
      }},
     {"data": {"name": "curves"}, "transform": [{"filter": "datum.panel === 'D'"}],
      "mark": {"type": "line", "interpolate": "monotone", "color": "black", "strokeWidth": 1.3},
      "encoding": {
       "x": {"field": "age", "type": "quantitative", "axis": {"orient": "top", "values": [0,5,10,15,20,25,30,35,40], "labels": false, "title": null, "tickSize": -6}},
       "y": {"field": "temp", "type": "quantitative", "axis": {"orient": "right", "values": [0,100,200,300,400,500,600,700], "labels": false, "title": null, "tickSize": -6}},
       "strokeDash": {"field": "style", "type": "nominal", "scale": {"domain": ["solid","dashed","dashdot"], "range": [[1,0],[8,4],[14,4,2,4]]}, "legend": null},
       "detail": {"field": "seg"}
      }},
     {"data": {"name": "labels"}, "transform": [{"filter": "datum.panel === 'D' && datum.kind === 'big'"}],
      "mark": {"type": "text", "align": "left", "baseline": "alphabetic", "fontSize": 20},
      "encoding": {"x": {"field": "age", "type": "quantitative", "axis": null}, "y": {"field": "temp", "type": "quantitative", "axis": null}, "text": {"field": "text"}}},
     {"data": {"name": "labels"}, "transform": [{"filter": "datum.panel === 'D' && datum.kind === 'small'"}],
      "mark": {"type": "text", "align": "left", "baseline": "alphabetic", "fontSize": 14.5},
      "encoding": {"x": {"field": "age", "type": "quantitative", "axis": null}, "y": {"field": "temp", "type": "quantitative", "axis": null}, "text": {"field": "text"}}},
     {"data": {"name": "labels"}, "transform": [{"filter": "datum.panel === 'D' && datum.kind === 'head'"}],
      "mark": {"type": "text", "align": "center", "baseline": "alphabetic", "fontSize": 20},
      "encoding": {"x": {"field": "age", "type": "quantitative", "axis": null}, "y": {"field": "temp", "type": "quantitative", "axis": null}, "text": {"field": "text"}}}
    ]},
   {"width": 488, "height": 205, "view": {"stroke": null},
    "layer": [
     {"data": {"name": "legendText"}, "transform": [{"filter": "datum.panel === 'C' && datum.kind === 'title'"}],
      "mark": {"type": "text", "align": "left", "baseline": "middle", "fontSize": 20, "dy": -5},
      "encoding": {"x": {"datum": 0.6, "type": "quantitative", "scale": {"domain": [0, 100], "nice": false, "zero": false}, "axis": null}, "y": {"field": "line", "type": "quantitative", "scale": {"domain": [0, 8.367], "reverse": true, "nice": false, "zero": false}, "axis": null}, "text": {"field": "text"}}},
     {"data": {"name": "legendText"}, "transform": [{"filter": "datum.panel === 'C' && datum.kind === 'period'"}],
      "mark": {"type": "text", "align": "left", "baseline": "middle", "fontSize": 20},
      "encoding": {"x": {"datum": 32.0, "type": "quantitative", "axis": null}, "y": {"field": "line", "type": "quantitative", "axis": null}, "text": {"field": "text"}}},
     {"data": {"name": "legendText"}, "transform": [{"filter": "datum.panel === 'C' && datum.kind === 'rate'"}],
      "mark": {"type": "text", "align": "right", "baseline": "middle", "fontSize": 20},
      "encoding": {"x": {"datum": 77.8, "type": "quantitative", "axis": null}, "y": {"field": "line", "type": "quantitative", "axis": null}, "text": {"field": "text"}}},
     {"data": {"name": "legendLines"}, "transform": [{"filter": "datum.panel === 'C'"}],
      "mark": {"type": "rule", "color": "black", "strokeWidth": 1.3},
      "encoding": {"x": {"datum": 17.4, "type": "quantitative", "axis": null}, "x2": {"datum": 29.7}, "y": {"field": "line", "type": "quantitative", "axis": null}, "strokeDash": {"field": "style", "type": "nominal", "scale": {"domain": ["solid","dashed","dashdot"], "range": [[1,0],[6,4],[14,5,2,5]]}, "legend": null}}}
    ]},
   {"width": 488, "height": 205, "view": {"stroke": null},
    "layer": [
     {"data": {"name": "legendText"}, "transform": [{"filter": "datum.panel === 'D' && datum.kind === 'title'"}],
      "mark": {"type": "text", "align": "left", "baseline": "middle", "fontSize": 20, "dy": -5},
      "encoding": {"x": {"datum": 0.1, "type": "quantitative", "scale": {"domain": [0, 100], "nice": false, "zero": false}, "axis": null}, "y": {"field": "line", "type": "quantitative", "scale": {"domain": [0, 8.367], "reverse": true, "nice": false, "zero": false}, "axis": null}, "text": {"field": "text"}}},
     {"data": {"name": "legendText"}, "transform": [{"filter": "datum.panel === 'D' && datum.kind === 'period'"}],
      "mark": {"type": "text", "align": "left", "baseline": "middle", "fontSize": 20},
      "encoding": {"x": {"datum": 32.3, "type": "quantitative", "axis": null}, "y": {"field": "line", "type": "quantitative", "axis": null}, "text": {"field": "text"}}},
     {"data": {"name": "legendText"}, "transform": [{"filter": "datum.panel === 'D' && datum.kind === 'rate'"}],
      "mark": {"type": "text", "align": "right", "baseline": "middle", "fontSize": 20},
      "encoding": {"x": {"datum": 79.1, "type": "quantitative", "axis": null}, "y": {"field": "line", "type": "quantitative", "axis": null}, "text": {"field": "text"}}},
     {"data": {"name": "legendLines"}, "transform": [{"filter": "datum.panel === 'D'"}],
      "mark": {"type": "rule", "color": "black", "strokeWidth": 1.3},
      "encoding": {"x": {"datum": 17.5, "type": "quantitative", "axis": null}, "x2": {"datum": 29.5}, "y": {"field": "line", "type": "quantitative", "axis": null}, "strokeDash": {"field": "style", "type": "nominal", "scale": {"domain": ["solid","dashed","dashdot"], "range": [[1,0],[6,4],[14,5,2,5]]}, "legend": null}}}
    ]}
],
"columns": 2,
"spacing": {"row": 99.2, "column": 164},
"bounds": "flush"
}
